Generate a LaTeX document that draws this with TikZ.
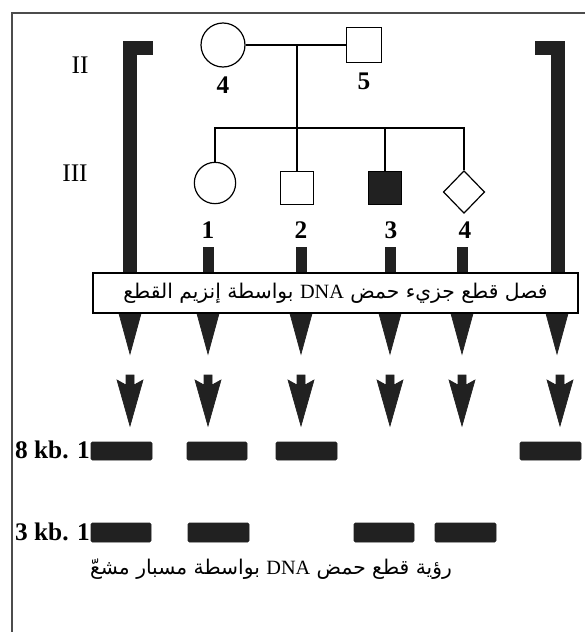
\documentclass[tikz,border=0pt]{standalone}
\usepackage{fontspec}
\setmainfont{Liberation Serif}
\newfontfamily\arabicfont[Script=Arabic]{DejaVu Sans}
\TeXXeTstate=1
\usetikzlibrary{shapes.geometric}
\tikzset{
  person/.style={draw, line width=0.9pt, inner sep=0pt, fill=white},
  kin/.style={line width=0.8pt},
  blot/.style={fill=black!87, draw=black!87, line width=0.5pt},
  band/.style={blot, rounded corners=1pt},
  lab/.style={inner sep=0.75pt, font=\fontsize{19}{22}\selectfont\bfseries},
  gen/.style={inner sep=0.75pt, font=\fontsize{19}{22}\selectfont},
  artext/.style={inner sep=0.75pt, font=\fontsize{15.2}{18}\selectfont\arabicfont}
}

\begin{document}
\begin{tikzpicture}[x=0.75pt,y=0.75pt,yscale=-1,xscale=1]
\useasboundingbox (0,0) rectangle (585,632);

%Frame
\draw [color=black!70, line width=1.2pt] (12,660) -- (12,13) -- (610,13) ;

%Bracket and stubs
\fill [blot] (152,41) -- (123,41) -- (123,313) -- (136,313) -- (136,54) -- (152,54) -- cycle ;
\fill [blot] (535,41) -- (564,41) -- (564,313) -- (551,313) -- (551,54) -- (535,54) -- cycle ;
\fill [blot] (203,247) rectangle (213,313) ;
\fill [blot] (296,247) rectangle (306,313) ;
\fill [blot] (385,247) rectangle (395,313) ;
\fill [blot] (457,247) rectangle (467,313) ;

%Heads under the box
\fill [blot] (118,310) -- (142,310) -- (130,354) -- cycle ;
\fill [blot] (196,310) -- (220,310) -- (208,354) -- cycle ;
\fill [blot] (289,310) -- (313,310) -- (301,354) -- cycle ;
\fill [blot] (378,310) -- (402,310) -- (390,354) -- cycle ;
\fill [blot] (450,310) -- (474,310) -- (462,354) -- cycle ;
\fill [blot] (545,310) -- (569,310) -- (557,354) -- cycle ;

%Box
\node [artext, draw, line width=1pt, fill=white, minimum width=363.75pt, minimum height=30pt, inner sep=2pt] (cutbox) at (335.5,293) {\beginR فصل قطع جزيء حمض \beginL{\rmfamily DNA}\endL{} بواسطة إنزيم القطع\endR};

%Second arrows
\fill [blot] (126,375) -- (134,375) -- (134,385) -- (143,380) -- (130,426) -- (117,380) -- (126,385) -- cycle ;
\fill [blot] (204,375) -- (212,375) -- (212,385) -- (221,380) -- (208,426) -- (195,380) -- (204,385) -- cycle ;
\fill [blot] (297,375) -- (305,375) -- (305,385) -- (314,380) -- (301,426) -- (288,380) -- (297,385) -- cycle ;
\fill [blot] (386,375) -- (394,375) -- (394,385) -- (403,380) -- (390,426) -- (377,380) -- (386,385) -- cycle ;
\fill [blot] (458,375) -- (466,375) -- (466,385) -- (475,380) -- (462,426) -- (449,380) -- (458,385) -- cycle ;
\fill [blot] (556,375) -- (564,375) -- (564,385) -- (573,380) -- (560,426) -- (547,380) -- (556,385) -- cycle ;

%Bands
\fill [band] (91,442) rectangle (152,460) ;
\fill [band] (187,442) rectangle (247,460) ;
\fill [band] (276,442) rectangle (337,460) ;
\fill [band] (520,442) rectangle (581,460) ;
\fill [band] (91,523) rectangle (151,542) ;
\fill [band] (188,523) rectangle (249,542) ;
\fill [band] (354,523) rectangle (414,542) ;
\fill [band] (435,523) rectangle (496,542) ;

%Pedigree
\node [person, circle, minimum size=33pt] (ii4) at (223,45) {};
\node [person, minimum size=26pt] (ii5) at (364,45) {};
\node [person, circle, minimum size=31pt] (iii1) at (215,183) {};
\node [person, minimum size=25pt] (iii2) at (297,188) {};
\node [person, fill=black!87, minimum size=25pt] (iii3) at (385,188) {};
\node [person, diamond, minimum width=31pt, minimum height=32pt] (iii4) at (464,192) {};
\coordinate (mid) at (297,45);
\coordinate (sib) at (297,128);
\draw [kin] (ii4) -- (ii5) ;
\draw [kin] (mid) -- (iii2) ;
\draw [kin] (iii1) |- (sib) -| (iii4) ;
\draw [kin] (sib -| iii3) -- (iii3) ;

% Text Node
\node [gen] (gii) at (80,65) {II};
% Text Node
\node [gen] (giii) at (75,173) {III};
% Text Node
\node [lab] (nii4) at (223,85) {4};
% Text Node
\node [lab] (nii5) at (364,81) {5};
% Text Node
\node [lab] (niii1) at (208,230) {1};
% Text Node
\node [lab] (niii2) at (301,230) {2};
% Text Node
\node [lab] (niii3) at (391,230) {3};
% Text Node
\node [lab] (niii4) at (465,230) {4};
% Text Node
\node [lab, anchor=east] (kb8) at (91,450) {8 kb. 1};
% Text Node
\node [lab, anchor=east] (kb3) at (91,532) {3 kb. 1};
% Text Node
\node [artext] (probe) at (271,569) {\beginR رؤية قطع حمض \beginL{\rmfamily DNA}\endL{} بواسطة مسبار مشعّ\endR};

\end{tikzpicture}
\end{document}
